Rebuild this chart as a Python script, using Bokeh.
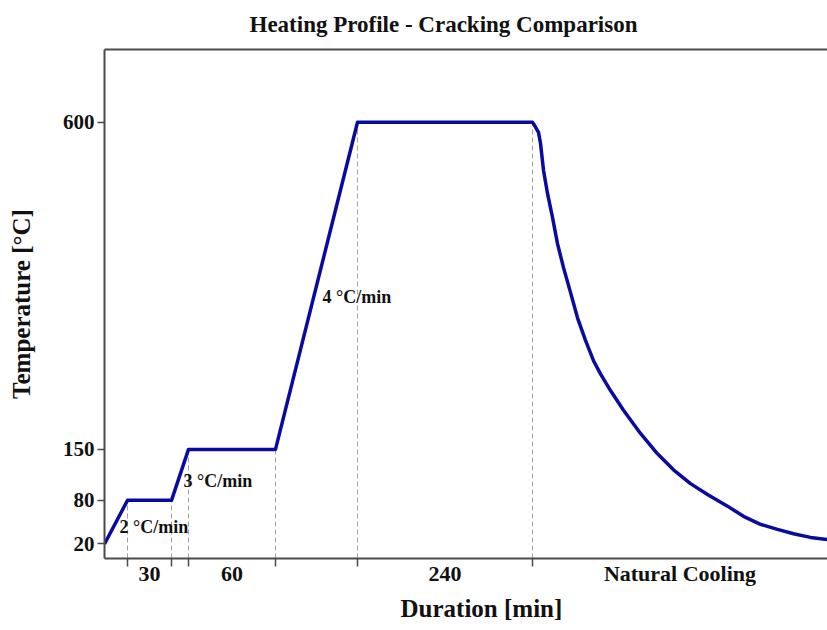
from bokeh.plotting import figure
from bokeh.models import Range1d, FixedTicker, LinearAxis, Label, Title
from bokeh.embed import file_html
from bokeh.resources import INLINE

# Schematic time positions (arbitrary units) and temperatures of the profile
profile_x = [0, 23, 67, 84, 171, 253, 428]
profile_T = [20, 80, 80, 150, 150, 600, 600]

# Natural cooling curve
cooling_x = [429, 434, 436, 439, 443, 448, 453, 459, 466, 473, 481, 489, 496, 506, 519,
             536, 553, 569, 586, 603, 623, 639, 656, 673, 689, 706, 723]
cooling_T = [598, 586, 571, 534, 502, 469, 433, 400, 366, 331, 300, 272, 254, 231, 204,
             172, 144, 122, 103, 88, 72, 58, 47, 40, 34, 29, 26]

# Segment boundaries (dashed guides) and segment labels
boundary_x = [23, 67, 84, 171, 253, 428]
boundary_T = [80, 80, 150, 150, 600, 600]
segment_labels = ["30", "60", "240", "Natural Cooling"]
segment_mid = [45, 127.5, 340.5, 575.5]

y_ticks = [20, 80, 150, 600]

rate_labels = ["2 \u00b0C/min", "3 \u00b0C/min", "4 \u00b0C/min"]
rate_x = [15, 79, 218]
rate_T = [43, 107, 359]

TITLE = "Heating Profile - Cracking Comparison"
FONT = "Liberation Serif"
AX = "#4a4a4a"
TXT = "#111111"

p = figure(width=827, height=630, output_backend="svg", toolbar_location=None,
           x_range=Range1d(0, 723), y_range=Range1d(0, 700),
           x_axis_type=None, y_axis_type=None,
           min_border_left=104, min_border_right=0, min_border_top=49, min_border_bottom=72)
p.outline_line_color = None
p.grid.visible = False
p.background_fill_color = "white"
p.border_fill_color = "white"

p.title.text = TITLE
p.title.text_font = FONT
p.title.text_font_size = "23px"
p.title.text_font_style = "bold"
p.title.text_color = TXT
p.title.align = "left"
p.title.offset = 145
p.title.standoff = 22
p.title.vertical_align = "top"
p.title.text_line_height = 0.6

# bottom axis
xa = LinearAxis(ticker=FixedTicker(ticks=segment_mid, minor_ticks=boundary_x))
xa.major_label_overrides = {m: l for m, l in zip(segment_mid, segment_labels)}
xa.major_tick_line_color = None
xa.major_tick_out = 0
xa.major_tick_in = 0
xa.minor_tick_out = 8
xa.minor_tick_in = 0
xa.minor_tick_line_color = AX
xa.minor_tick_line_width = 1.5
xa.axis_line_color = AX
xa.axis_line_width = 2
xa.major_label_text_font = FONT
xa.major_label_text_font_size = "22px"
xa.major_label_text_font_style = "bold"
xa.major_label_text_color = TXT
xa.major_label_standoff = -6
p.add_layout(xa, "below")

x_title = Title(text="Duration [min]", align="left", offset=296, standoff=8,
                text_font=FONT, text_font_size="25px", text_font_style="bold",
                text_color=TXT)
p.add_layout(x_title, "below")

# left axis
ya = LinearAxis(ticker=FixedTicker(ticks=y_ticks, minor_ticks=[]))
ya.major_tick_out = 7
ya.major_tick_in = 0
ya.major_tick_line_color = AX
ya.major_tick_line_width = 1.5
ya.axis_line_color = AX
ya.axis_line_width = 2
ya.major_label_text_font = FONT
ya.major_label_text_font_size = "21px"
ya.major_label_text_font_style = "bold"
ya.major_label_text_color = TXT
ya.major_label_standoff = 3
ya.axis_label = "Temperature [\u00b0C]"
ya.axis_label_text_font = FONT
ya.axis_label_text_font_size = "25px"
ya.axis_label_text_font_style = "bold"
ya.axis_label_text_color = TXT
ya.axis_label_standoff = 25
p.add_layout(ya, "left")

# top border line
ta = LinearAxis(ticker=FixedTicker(ticks=[], minor_ticks=[]))
ta.major_label_text_font_size = "0px"
ta.major_tick_line_color = None
ta.minor_tick_line_color = None
ta.major_tick_out = 0
ta.major_label_standoff = 0
ta.axis_line_color = AX
ta.axis_line_width = 2
p.add_layout(ta, "above")

# dashed guides
p.segment(x0=boundary_x, y0=[0] * len(boundary_x), x1=boundary_x, y1=boundary_T,
          line_color="#a0a0a0", line_width=1, line_dash="5 3")

# profile line
p.line(profile_x + cooling_x, profile_T + cooling_T, line_color="#0a0aa0", line_width=3.5,
       line_join="round")

for t, x, y in zip(rate_labels, rate_x, rate_T):
    p.add_layout(Label(x=x, y=y, text=t, text_font=FONT, text_font_size="18px",
                       text_font_style="bold", text_color=TXT, text_baseline="middle"))

open("out.html", "w").write(file_html(p, INLINE))
